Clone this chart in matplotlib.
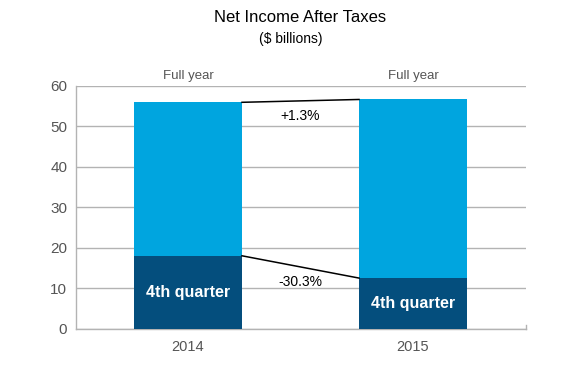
import numpy as np
import matplotlib
matplotlib.use("Agg")
import matplotlib.pyplot as plt

plt.rcParams['font.family'] = ['Liberation Sans', 'DejaVu Sans']

years = ["2014", "2015"]
full_year = [55.9, 56.6]
fourth_quarter = [18.0, 12.5]
changes = ["+1.3%", "-30.3%"]
top_label = "Full year"
seg_label = "4th quarter"

light = "#00a5df"
dark = "#044e7d"
grid_col = "#b3b3b3"
text_gray = "#555555"

fig = plt.figure(figsize=(5.8, 3.79), dpi=100)
ax = fig.add_axes([75.5 / 580, 1 - 328.7 / 379, 450 / 580, 243 / 379])

x = np.arange(len(years))
width = 0.48
rest = [f - q for f, q in zip(full_year, fourth_quarter)]
ax.bar(x, fourth_quarter, width, color=dark, zorder=3)
ax.bar(x, rest, width, bottom=fourth_quarter, color=light, zorder=3)

# connector lines between the bars
half = width / 2
ax.plot([x[0] + half, x[1] - half], [full_year[0], full_year[1]], color="black", lw=1.1, zorder=4)
ax.plot([x[0] + half, x[1] - half], [fourth_quarter[0], fourth_quarter[1]], color="black", lw=1.1, zorder=4)
ax.text(0.5, 52.5, changes[0], ha="center", va="center", fontsize=10, color="black", zorder=5)
ax.text(0.5, 11.6, changes[1], ha="center", va="center", fontsize=10, color="black", zorder=5)

for i in x:
    ax.text(i, fourth_quarter[i] / 2, seg_label, ha="center", va="center",
            color="white", fontsize=11.5, fontweight="bold", zorder=5)
    ax.text(i, 62.3, top_label, ha="center", va="center", color=text_gray, fontsize=9.5)

ax.set_xlim(-0.5, 1.5)
ax.set_ylim(0, 60)
ax.set_yticks(np.arange(0, 61, 10))
ax.set_xticks(x)
ax.set_xticklabels(years)
ax.yaxis.grid(True, color=grid_col, lw=1, zorder=0)
ax.set_axisbelow(True)
for s in ["top", "right"]:
    ax.spines[s].set_visible(False)
ax.spines["left"].set_color(grid_col)
ax.spines["bottom"].set_color(grid_col)
ax.spines["left"].set_linewidth(1)
ax.spines["bottom"].set_linewidth(1)
ax.tick_params(axis="y", length=0, pad=6, labelcolor=text_gray, labelsize=11)
ax.tick_params(axis="x", length=0, pad=8, labelcolor=text_gray, labelsize=10.5)
# small end tick at right of baseline
ax.plot([1.5, 1.5], [0, 0.9], color=grid_col, lw=1, clip_on=False)

fig.text(300 / 580, 1 - 18 / 379, "Net Income After Taxes", ha="center", va="center",
         fontsize=12, color="black")
fig.text(291 / 580, 1 - 39 / 379, "($ billions)", ha="center", va="center",
         fontsize=10, color="black")

fig.savefig("out.png", dpi=100)
